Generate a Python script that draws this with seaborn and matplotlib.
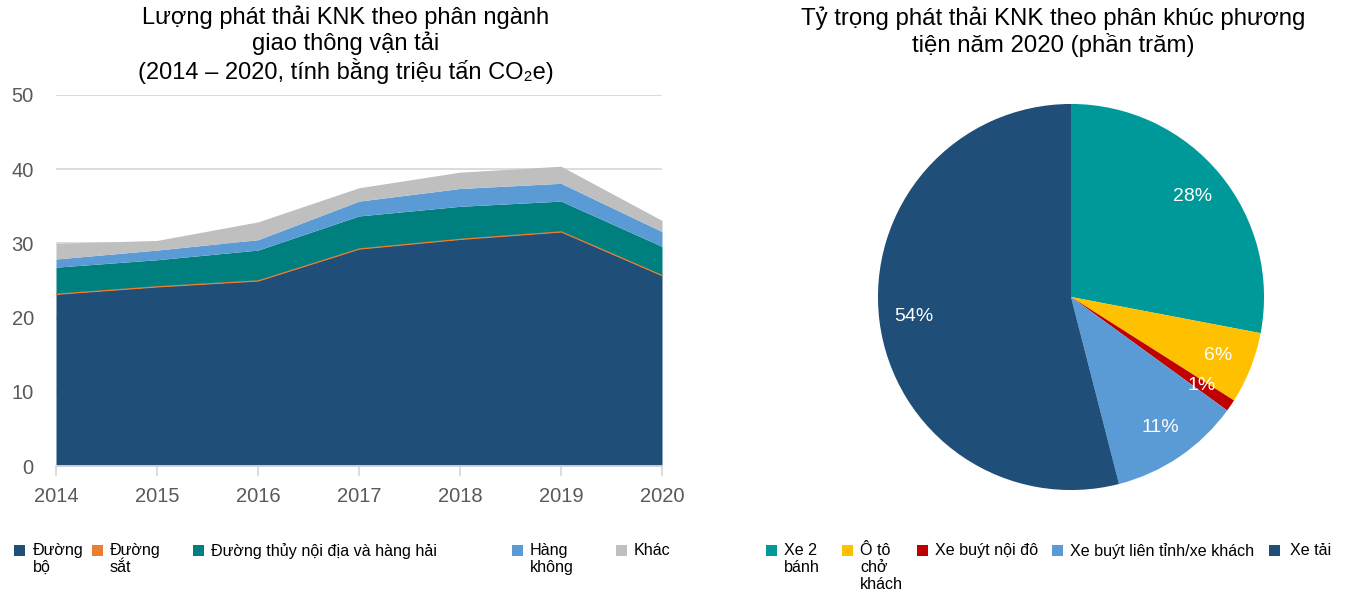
import matplotlib
matplotlib.use("Agg")
import matplotlib.pyplot as plt
from matplotlib.patches import Rectangle
from matplotlib import font_manager
import pandas as pd
import seaborn as sns

# --- Emissions by transport sub-sector (million tonnes CO2e) ---
years = [2014, 2015, 2016, 2017, 2018, 2019, 2020]
road = [23.2, 24.2, 25.0, 29.3, 30.6, 31.6, 25.7]
rail = [0.1, 0.1, 0.1, 0.1, 0.1, 0.1, 0.1]
waterway = [3.5, 3.5, 4.0, 4.3, 4.3, 4.0, 3.8]
aviation = [1.1, 1.3, 1.4, 2.0, 2.4, 2.4, 2.0]
other = [2.1, 1.3, 2.4, 1.8, 2.2, 2.3, 1.5]
mode_labels = ["Đường\nbộ", "Đường\nsắt", "Đường thủy nội địa và hàng hải",
               "Hàng\nkhông", "Khác"]
y_ticks = [0, 10, 20, 30, 40, 50]

# --- 2020 share by vehicle segment (%) ---
segments = ["Xe 2\nbánh", "Ô tô\nchở\nkhách", "Xe buýt nội đô",
            "Xe buýt liên tỉnh/xe khách", "Xe tải"]
shares = [28, 6, 1, 11, 54]

sns.set_theme(style="white")
installed = {f.name for f in font_manager.fontManager.ttflist}
narrow = "Liberation Sans Narrow" if "Liberation Sans Narrow" in installed else "Liberation Sans"
plt.rcParams["font.family"] = ["Liberation Sans", "DejaVu Sans"]

mode_colors = sns.color_palette(["#1F4E79", "#ED7D31", "#007F7F", "#5B9BD5", "#BFBFBF"])
seg_colors = sns.color_palette(["#009999", "#FFC000", "#C00000", "#5B9BD5", "#1F4E79"])

W, H = 1347, 599
fig = plt.figure(figsize=(W / 100, H / 100), dpi=100)
fig.patch.set_facecolor("white")


def fx(px):
    return px / W


def fy(py):
    return 1 - py / H


# ---------------- stacked area ----------------
df = pd.DataFrame({"year": years, "road": road, "rail": rail,
                   "waterway": waterway, "aviation": aviation, "other": other})
ax = fig.add_axes([fx(56), fy(466), fx(662) - fx(56), fy(95) - fy(466)])
polys = ax.stackplot(df["year"], df[["road", "rail", "waterway", "aviation", "other"]].T.values,
                     colors=mode_colors, linewidth=0)
polys[1].set_edgecolor(mode_colors[1])
polys[1].set_linewidth(0.8)

ax.set_xlim(years[0], years[-1])
ax.set_ylim(0, 50)
ax.set_xticks(years)
ax.set_yticks(y_ticks)
ax.set_axisbelow(True)
ax.yaxis.grid(True, color="#D9D9D9", linewidth=1.3)
ax.xaxis.grid(False)
for s in ("left", "top", "right"):
    ax.spines[s].set_visible(False)
ax.spines["bottom"].set_color("#D9D9D9")
ax.spines["bottom"].set_linewidth(1.3)
ax.tick_params(axis="x", bottom=True, length=7, width=1.3, color="#D9D9D9",
               labelsize=14.5, labelcolor="#595959", pad=8)
ax.tick_params(axis="y", left=False, length=0, labelsize=14.5, labelcolor="#595959", pad=16)
for lab in ax.get_xticklabels() + ax.get_yticklabels():
    lab.set_family(narrow)

fig.text(fx(346), fy(5),
         "Lượng phát thải KNK theo phân ngành\ngiao thông vận tải\n(2014 – 2020, tính bằng triệu tấn CO₂e)",
         ha="center", va="top", fontsize=17, family=narrow, color="#000000", linespacing=1.15)

# ---------------- pie ----------------
ax2 = fig.add_axes([fx(877), fy(491), fx(1265) - fx(877), fy(103) - fy(491)])
ax2.pie(shares, colors=seg_colors, startangle=90, counterclock=False,
        autopct="%1.0f%%", pctdistance=0.82,
        wedgeprops=dict(linewidth=0),
        textprops=dict(color="white", fontsize=14, family=narrow))
ax2.set_xlim(-1.005, 1.005)
ax2.set_ylim(-1.005, 1.005)
ax2.set_aspect("equal")
ax2.axis("off")

fig.text(fx(1053), fy(6),
         "Tỷ trọng phát thải KNK theo phân khúc phương\ntiện năm 2020 (phần trăm)",
         ha="center", va="top", fontsize=17.3, color="#000000", linespacing=1.2)


# ---------------- legends ----------------
def draw_entries(positions, labels, colors, y_px):
    for (sq_x, tx_x), label, col in zip(positions, labels, colors):
        fig.add_artist(Rectangle((fx(sq_x), fy(y_px + 6)), fx(11), 11 / H,
                                 transform=fig.transFigure, facecolor=col,
                                 edgecolor="none"))
        fig.text(fx(tx_x), fy(y_px - 7), label, ha="left", va="top",
                 fontsize=11.6, color="#000000", linespacing=1.15)


draw_entries([(14, 33), (92, 110), (193, 211), (512, 530), (616, 634)],
             mode_labels, mode_colors, 550)
draw_entries([(766, 784), (842, 860), (917, 935), (1052, 1070), (1269, 1290)],
             segments, seg_colors, 550)

fig.savefig("out.png", dpi=100, facecolor="white")
